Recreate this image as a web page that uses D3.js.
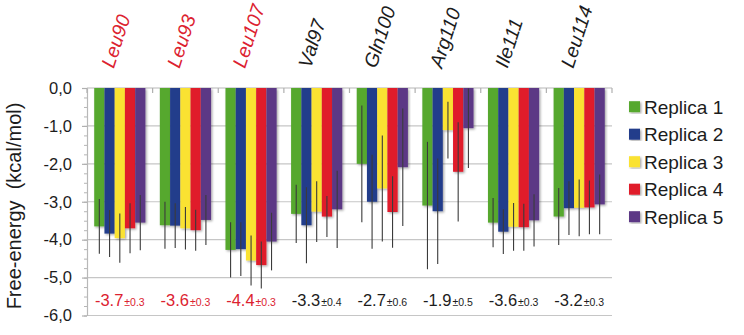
<!DOCTYPE html>
<html>
<head>
<meta charset="utf-8">
<script src="https://cdn.jsdelivr.net/npm/d3@7"></script>
<style>
  html, body { margin: 0; padding: 0; background: #fff; }
  svg { display: block; font-family: "Liberation Sans", Arial, sans-serif; }
</style>
</head>
<body>
<svg id="chart" width="744" height="335"></svg>
<script>
// ---- data ----
const categories = ["Leu90", "Leu93", "Leu107", "Val97", "Gln100", "Arg110", "Ile111", "Leu114"];
const highlighted = ["Leu90", "Leu93", "Leu107"];
const replicas = ["Replica 1", "Replica 2", "Replica 3", "Replica 4", "Replica 5"];
const replica1 = [-3.65, -3.62, -4.27, -3.32, -2.00, -3.10, -3.55, -3.39];
const replica2 = [-3.84, -3.63, -4.25, -3.62, -3.00, -3.25, -3.79, -3.17];
const replica3 = [-3.96, -3.70, -4.55, -3.26, -2.65, -1.11, -3.66, -3.16];
const replica4 = [-3.70, -3.75, -4.67, -3.39, -3.27, -2.21, -3.67, -3.15];
const replica5 = [-3.55, -3.48, -4.05, -3.20, -2.09, -1.06, -3.49, -3.07];
const error1 = [0.72, 0.62, 0.73, 0.77, 1.54, 1.68, 0.65, 0.75];
const error2 = [0.62, 0.59, 0.71, 1.00, 1.24, 1.39, 0.59, 0.71];
const error3 = [0.65, 0.56, 0.66, 0.80, 1.40, 0.75, 0.63, 0.75];
const error4 = [0.66, 0.54, 0.62, 0.54, 0.94, 1.31, 0.62, 0.71];
const error5 = [0.73, 0.66, 0.76, 1.02, 1.55, 1.05, 0.69, 0.79];
const meanLabels = ["-3.7", "-3.6", "-4.4", "-3.3", "-2.7", "-1.9", "-3.6", "-3.2"];
const sdLabels = ["±0.3", "±0.3", "±0.3", "±0.4", "±0.6", "±0.5", "±0.3", "±0.3"];
const yTicks = [0, -1, -2, -3, -4, -5, -6];
const yTitle = "Free-energy  (kcal/mol)";

// ---- style ----
const colors = ["#56a82f", "#243e8b", "#fae233", "#e01a2c", "#5c3985"];
const redText = "#dc2230";
const darkText = "#1c1c1c";

const values = [replica1, replica2, replica3, replica4, replica5];
const errors = [error1, error2, error3, error4, error5];

const svg = d3.select("#chart");
const plotLeft = 87, plotRight = 612, plotTop = 88, plotBottom = 315.5;

const defs = svg.append("defs");
const f = defs.append("filter").attr("id", "shadow")
  .attr("x", "-20%").attr("y", "-5%").attr("width", "150%").attr("height", "115%");
f.append("feDropShadow").attr("dx", 1.3).attr("dy", 1.3).attr("stdDeviation", 0.9)
  .attr("flood-color", "#000").attr("flood-opacity", 0.35);

const x = d3.scaleBand().domain(categories).range([plotLeft, plotRight])
  .paddingInner(0.22).paddingOuter(0.11);
const xr = d3.scaleBand().domain(replicas).range([0, x.bandwidth()]);
const y = d3.scaleLinear().domain([-6, 0]).range([plotBottom, plotTop]);

const locale = d3.formatLocale({decimal: ",", thousands: ".", grouping: [3], currency: ["", ""], minus: "-"});
const fmt = locale.format(".1f");

// gridlines
svg.append("g").selectAll("line").data(yTicks.filter(d => d !== 0)).join("line")
  .attr("x1", plotLeft).attr("x2", plotRight)
  .attr("y1", d => y(d)).attr("y2", d => y(d))
  .attr("stroke", "#c6c6c6").attr("stroke-width", 1.2);

// minor y ticks
const minor = d3.range(-6, 0.001, 0.25);
const gMinor = svg.append("g").attr("transform", `translate(${plotLeft},0)`)
  .call(d3.axisLeft(y).tickValues(minor).tickSize(3).tickFormat(""));
gMinor.select(".domain").remove();
gMinor.selectAll("line").attr("stroke", "#b5b5b5");

// y axis
const gy = svg.append("g").attr("transform", `translate(${plotLeft},0)`)
  .call(d3.axisLeft(y).tickValues(yTicks).tickSize(5).tickSizeOuter(0).tickPadding(10).tickFormat(fmt));
gy.select(".domain").attr("stroke", "#b8b8b8").attr("stroke-width", 1.2);
gy.selectAll(".tick line").attr("stroke", "#b0b0b0").attr("stroke-width", 1.2);
gy.selectAll(".tick text").attr("font-size", 16.5).attr("fill", darkText)
  .attr("font-family", "Liberation Sans, Arial, sans-serif");

// top zero axis line with group boundary ticks
svg.append("line").attr("x1", plotLeft).attr("x2", plotRight).attr("y1", y(0)).attr("y2", y(0))
  .attr("stroke", "#b8b8b8").attr("stroke-width", 1.2);
svg.append("g").selectAll("line").data(d3.range(categories.length + 1)).join("line")
  .attr("x1", i => x.range()[0] + i * x.step()).attr("x2", i => x.range()[0] + i * x.step())
  .attr("y1", y(0)).attr("y2", y(0) + 5)
  .attr("stroke", "#b0b0b0").attr("stroke-width", 1.2);

// bars
const groups = svg.append("g").selectAll("g").data(categories).join("g")
  .attr("transform", c => `translate(${x(c)},0)`);
groups.each(function(c, ci) {
  const g = d3.select(this);
  replicas.forEach((r, ri) => {
    const v = values[ri][ci];
    g.append("rect")
      .attr("x", xr(r)).attr("width", xr.bandwidth())
      .attr("y", y(0)).attr("height", y(v) - y(0))
      .attr("fill", colors[ri]).attr("filter", "url(#shadow)");
  });
});
// error bars
groups.each(function(c, ci) {
  const g = d3.select(this);
  replicas.forEach((r, ri) => {
    const v = values[ri][ci], e = errors[ri][ci];
    const cx = xr(r) + xr.bandwidth() / 2;
    g.append("line")
      .attr("x1", cx).attr("x2", cx)
      .attr("y1", y(v + e)).attr("y2", y(v - e))
      .attr("stroke", "#3b3b3b").attr("stroke-width", 1.1);
  });
});

// top category labels
svg.append("g").selectAll("text").data(categories).join("text")
  .attr("transform", c => `translate(${x(c) + x.bandwidth() / 2 - 6},69) rotate(-72)`)
  .attr("font-size", 19.5).attr("font-style", "italic")
  .attr("fill", c => highlighted.includes(c) ? redText : darkText)
  .text(c => c);

// bottom mean labels
const lab = svg.append("g").selectAll("text").data(categories).join("text")
  .attr("x", c => x(c) + x.bandwidth() / 2).attr("y", 306)
  .attr("text-anchor", "middle")
  .attr("fill", c => highlighted.includes(c) ? redText : darkText);
lab.append("tspan").attr("font-size", 16.5).text((c, i) => meanLabels[i]);
lab.append("tspan").attr("font-size", 10.5).attr("dx", 1).text((c, i) => sdLabels[i]);

// y title
svg.append("text")
  .attr("transform", `translate(21,206) rotate(-90)`)
  .attr("text-anchor", "middle").attr("font-size", 20).attr("fill", darkText)
  .style("white-space", "pre")
  .text(yTitle);

// legend
const lg = svg.append("g").selectAll("g").data(replicas).join("g")
  .attr("transform", (r, i) => `translate(629,${106.7 + i * 27.5})`);
lg.append("rect").attr("x", 0).attr("y", -5.5).attr("width", 11).attr("height", 11)
  .attr("fill", (r, i) => colors[i]).attr("filter", "url(#shadow)");
lg.append("text").attr("x", 15).attr("y", 7).attr("font-size", 19).attr("fill", darkText)
  .text(r => r);
</script>
</body>
</html>
